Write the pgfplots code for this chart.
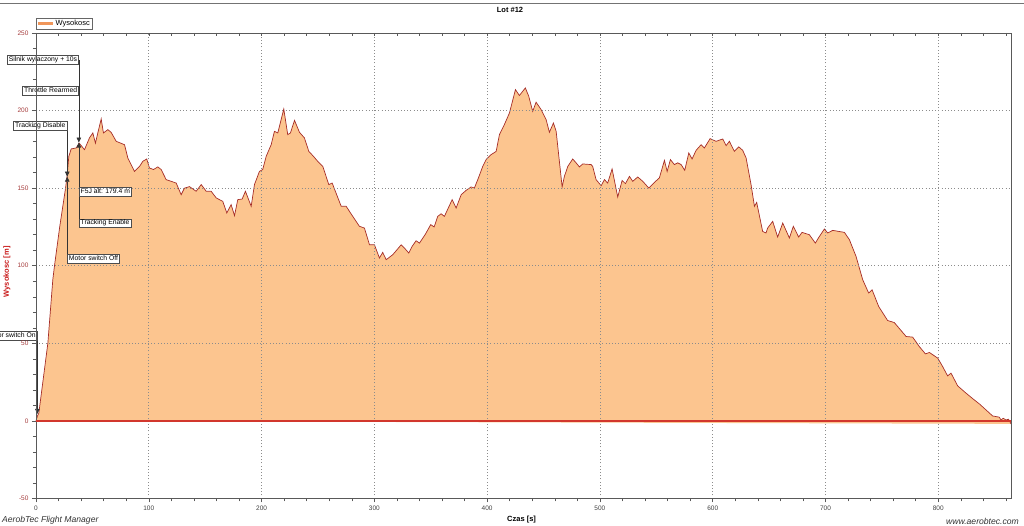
\documentclass[border=0pt]{standalone}
\usepackage{fontspec}
\setmainfont{Liberation Sans}
\usepackage{pgfplots}
\usepackage{pgfplotstable}
\pgfplotsset{compat=1.18}
\usetikzlibrary{arrows.meta}

\definecolor{peach}{RGB}{252,197,143}
\definecolor{curve}{RGB}{165,45,40}
\definecolor{zeroline}{RGB}{210,55,45}
\definecolor{tickred}{RGB}{165,60,60}
\definecolor{labred}{RGB}{200,25,25}
\definecolor{legorange}{RGB}{240,150,90}

\pgfplotstableread{
t h
0 0
1.2 3
2.5 5
10.5 50
14.9 91
16.4 100
21 125
26.2 150
27.6 158
29.1 170.5
31.2 175.3
35.6 175.9
38.3 179
43 174.8
47.4 182.4
50.4 185.6
52.7 179
54.8 185.6
57.8 194.6
59.8 185.6
63.7 187.7
66.6 186
71.1 180.2
78.5 178
81.4 169.5
87.3 160.8
91.8 164
94.7 167.3
98.2 168.8
100.6 163
104.2 162
108 163.7
111 162
115.4 155.5
124.3 153.3
128.7 145.8
131.6 150
136.1 151
142 148
146.5 152.3
150.9 148
155.3 148
159.8 143.7
162.7 142.6
165.6 141.5
169.2 134
173 139.4
176 132.3
178.9 142.6
182.8 143
185.7 148
190.8 138.3
193.7 152.3
198.1 160.8
201 162
204.1 170.5
208.5 178
211.4 186.6
214.4 185.6
219.7 201
223.2 184.5
225.6 185.6
229.2 193.7
233.6 186
238 182.4
241.9 173.7
245.4 171
249.8 167.3
254.3 164
259.6 152.3
262.6 153.3
270.6 138.3
275 138.3
280.9 131.8
286.8 125.4
291.2 124.3
295.7 113.5
300.1 113.5
304.5 105
307.4 108.6
310.5 103.9
316.3 107.1
323.8 113.5
326.7 111.4
330.5 108.2
333.5 112.5
337 116.1
340 114.6
345 120
350 126.5
353 125
356.2 131.8
359.2 133.5
362.1 131.8
369 142.6
372.5 137.2
377 145.8
381.4 148.6
385.8 150.8
388.7 150.1
391.7 155.5
396.1 164
399.1 168.4
403.5 171.6
408 173.7
410.9 184.5
415.3 191
419.8 198.5
425.1 213.5
428.6 209.7
433.9 214.6
436.9 209.2
440.4 199.5
443.4 205.4
447.9 200.6
452.3 194.2
455.2 186
458.8 192
461.2 186.6
466.5 150.8
468.5 157.6
471.5 164
475.9 168.8
478.9 166.3
481.8 163.7
484.8 165.6
492.2 165.2
493.6 164
496.6 155.5
501.1 151.6
504 155.5
506.9 153.3
510.8 162.4
515.8 144.3
519.7 155
522.6 152.9
526.2 157.6
529.1 154.4
533.5 157.2
538 154.4
543.3 150.1
548.3 153.7
552.7 156.6
557.2 167.9
559.6 160.8
562.5 168.4
566 165.2
569 166.3
572 165.2
575.2 161.5
578.8 172.7
581.7 168.8
585.3 174.4
589.7 178
592.6 175.9
597.7 181.9
603 180.2
608.9 181.7
611.9 177.4
614.8 180.2
619.2 173.7
623.1 176.6
626.6 174.4
629.6 169.5
634 152.3
637 138.3
639 140.8
644.3 122.1
647.3 121.1
648.7 124.3
653.2 128.6
657.6 118.5
662.1 127.5
668 117.9
671.5 125.4
676.2 118.5
679.2 121.5
685.7 120
691 114.6
694.6 118.9
699 123.7
702 121.1
706.4 122.8
716.8 121.5
721.2 116.8
727.1 106
733 91
738.3 82.4
741.3 84.5
747.2 73.7
755.1 64.7
761 63.4
771.5 54.4
777.3 54
783.2 47.9
788.6 43.2
792.1 44.1
799.5 40.5
803.9 35
808.3 29
811.3 30.8
817.2 22.6
824.6 17.9
832 13.5
836.4 11
842.3 7.1
848.2 3.2
854.1 2.4
855.6 0.6
857.6 1.7
860 0.6
862.3 1.1
864.5 -1.9
}\altdata

\begin{document}
\begin{tikzpicture}[
  lbl/.style={draw=black!70, fill=white, line width=0.5pt, inner xsep=1.5pt, inner ysep=1.2pt,
              text height=5pt, text depth=1.5pt, font=\fontsize{6.8}{7}\selectfont},
  ann/.style={draw=black!80, line width=0.6pt},
  tip/.style={-{Triangle[width=4.5pt,length=5pt]}}
]
\path[use as bounding box] (0pt,0pt) rectangle (1024pt,526pt);
\draw[black!55, line width=0.8pt] (0pt,523pt) -- (1024pt,523pt);

\begin{axis}[
  at={(36pt,27.5pt)}, anchor=south west,
  scale only axis, width=975pt, height=465.5pt,
  xmin=0, xmax=864.5, ymin=-50, ymax=250,
  xtick distance=100, ytick distance=50,
  minor x tick num=4, minor y tick num=4,
  xtick pos=bottom, ytick pos=left,
  tick align=outside,
  major tick length=4pt, minor tick length=3pt,
  grid=major,
  major grid style={dash pattern=on 0.8pt off 2.4pt, black!45, line width=0.7pt},
  axis line style={black!65, line width=0.8pt},
  every tick/.style={black!65, line width=0.5pt},
  tick label style={font=\fontsize{6.5}{7}\selectfont},
  /pgf/number format/assume math mode=true,
  yticklabel style={text=tickred},
  xticklabel style={text=black!75},
  xlabel={Czas [s]}, ylabel={Wysokosc [m]},
  xlabel style={at={(axis description cs:0.498,0)}, anchor=center, yshift=-21.5pt,
                font=\bfseries\fontsize{7.5}{8}\selectfont},
  ylabel style={at={(axis description cs:-0.0297,0.487)}, anchor=center,
                font=\bfseries\fontsize{7.5}{8}\selectfont, text=labred},
  axis on top,
  clip=false,
  extra y ticks={0}, extra y tick labels={},
  extra y tick style={grid=major, major grid style={solid, zeroline, line width=1.3pt}},
  legend style={at={(0,1)}, anchor=south west, yshift=4pt, draw=black!60, fill=white,
                inner sep=1pt, font=\fontsize{7.5}{8}\selectfont,
                nodes={inner sep=1pt}},
  legend image code/.code={\draw[legorange, line width=2.5pt] (0pt,0pt) -- (15pt,0pt);},
]
\addplot[fill=peach, draw=curve, line width=0.7pt] table[x=t,y=h] {\altdata};
\addlegendentry{Wysokosc}

% event markers
\draw[ann, tip] (axis cs:38,232.6) -- (axis cs:38,179.4);
\draw[ann, tip] (axis cs:38,124.5) -- (axis cs:38,179.4);
\draw[ann, tip] (axis cs:27.7,190) -- (axis cs:27.7,157.4);
\draw[ann, tip] (axis cs:27.7,102) -- (axis cs:27.7,157.4);
\draw[ann, tip] (axis cs:1.2,54.8) -- (axis cs:1.2,4.5);

\node[lbl, anchor=east] at (axis cs:38,232.6) {Silnik wylaczony + 10s};
\node[lbl, anchor=east] at (axis cs:38,212.6) {Throttle Rearmed};
\node[lbl, anchor=west] at (axis cs:38,147.4) {F5J alt: 179.4 m};
\node[lbl, anchor=west] at (axis cs:38,127.4) {Tracking Enable};
\node[lbl, anchor=east] at (axis cs:27.7,190) {Tracking Disable};
\node[lbl, anchor=west] at (axis cs:27.7,104.5) {Motor switch Off};
\node[lbl, anchor=east] at (axis cs:1.2,54.8) {Motor switch On};
\end{axis}

\begin{axis}[
  at={(36pt,27.5pt)}, anchor=south west,
  scale only axis, width=975pt, height=465.5pt,
  xmin=0, xmax=864.5, ymin=-50, ymax=250,
  axis x line*=top, axis y line=none,
  xtick distance=100, minor x tick num=4,
  tick align=inside, xticklabels={},
  major tick length=3pt, minor tick length=3pt,
  axis line style={black!65, line width=0.8pt},
  every tick/.style={black!65, line width=0.5pt},
]
\end{axis}

\node[font=\bfseries\fontsize{7.5}{8}\selectfont] at (510pt,516pt) {Lot \#12};
\node[anchor=base west, inner sep=0pt, font=\itshape\fontsize{8.6}{9}\selectfont, text=black!80] at (2pt,3pt) {AerobTec Flight Manager};
\node[anchor=base east, inner sep=0pt, font=\itshape\fontsize{8.6}{9}\selectfont, text=black!80] at (1019pt,1pt) {www.aerobtec.com};
\end{tikzpicture}
\end{document}
